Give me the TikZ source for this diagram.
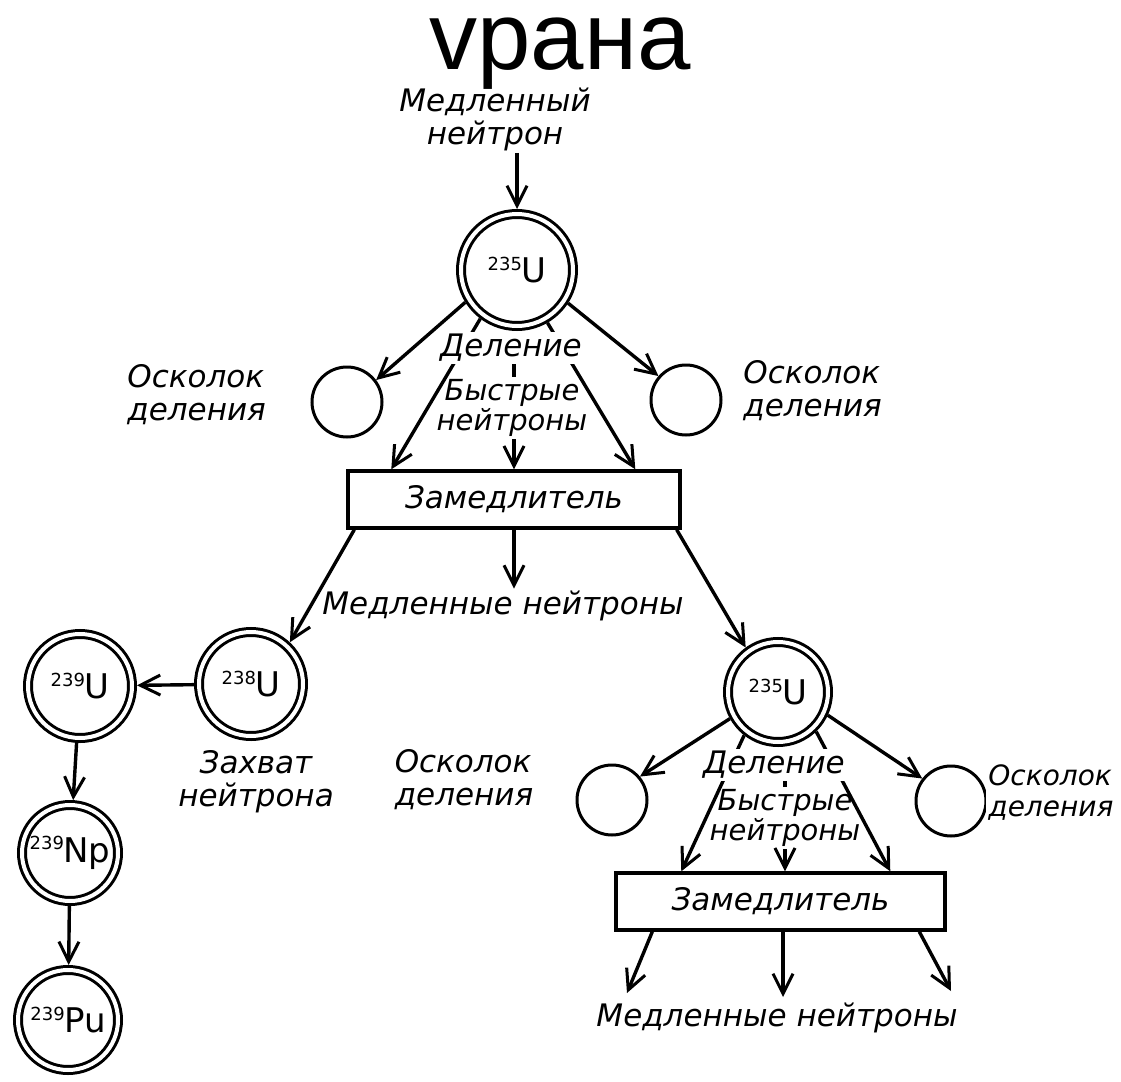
\documentclass[tikz,border=0pt]{standalone}
\usepackage{fontspec}
\setmainfont{DejaVu Sans}
\newfontfamily\titlefont{Liberation Sans}
\newfontfamily\handfont{DejaVu Sans}
\usetikzlibrary{arrows.meta,calc,backgrounds}
\newcommand\isolabel[2]{\raisebox{0.62em}{\fontsize{9}{9}\selectfont #1}\kern-0.3pt{\fontsize{17}{17}\selectfont #2}}
\tikzset{
  nuc/.style={circle, draw, line width=1.5pt, double, double distance=2pt, inner sep=0pt, outer sep=2.5pt},
  frag/.style={circle, draw, line width=1.5pt, inner sep=0pt, outer sep=0.75pt},
  boxst/.style={draw, line width=1.7pt, inner sep=0pt, font=\handfont\itshape\fontsize{15.5}{16.5}\selectfont},
  lab/.style={font=\handfont\itshape\fontsize{15.5}{16.5}\selectfont, align=center, inner sep=1pt},
  labw/.style={lab, fill=white},
  tight/.style={font=\handfont\itshape\fontsize{14.5}{14}\selectfont, inner sep=1pt},
  titlest/.style={font=\titlefont\fontsize{48}{48}\selectfont, inner sep=0pt, text height=25pt, text depth=5pt},
  arr/.style={line width=1.7pt, -{Straight Barb[length=10pt,width=10pt,line width=1.5pt]}},
  tick/.style={line width=1.7pt}
}
\begin{document}
\begin{tikzpicture}[x=0.5pt,y=-0.5pt]
\useasboundingbox (0,0) rectangle (1121,1082);
% nuclei and boxes
\node[nuc, minimum size=56pt] (u1) at (517,270) {\isolabel{235}{U}};
\node[frag, minimum size=35pt] (f1) at (347,402) {};
\node[frag, minimum size=35pt] (f2) at (686,400) {};
\node[boxst, minimum width=166pt, minimum height=28.5pt] (box1) at (514,499.5) {Замедлитель};
\node[nuc, minimum size=52pt] (u238) at (251,684) {\isolabel{238}{U}};
\node[nuc, minimum size=52pt] (u239) at (80,686) {\isolabel{239}{U}};
\node[nuc, minimum size=48pt] (np) at (70,853) {\isolabel{239}{Np}};
\node[nuc, minimum size=50pt] (pu) at (68,1020) {\isolabel{239}{Pu}};
\node[nuc, minimum size=50pt] (u2) at (778,692) {\isolabel{235}{U}};
\node[frag, minimum size=35pt] (f3) at (612,800) {};
\node[frag, minimum size=35pt] (f4) at (951,801) {};
\node[boxst, minimum width=164.5pt, minimum height=28.5pt] (box2) at (780.5,901.5) {Замедлитель};
% labels
\node[titlest, anchor=base] (title) at (560,69) {vрана};
\node[lab] (slow0) at (495,119) {Медленный\\нейтрон};
\node[labw] (del1) at (511,348) {Деление};
\node[lab, tight] (bys1) at (512,408) {Быстрые\\нейтроны};
\node[lab, anchor=west, align=left] (osk1) at (125,395) {Осколок\\деления};
\node[lab, anchor=west, align=left] (osk2) at (741,391) {Осколок\\деления};
\node[lab] (slow1) at (503,606) {Медленные нейтроны};
\node[lab] (cap) at (256,782) {Захват\\нейтрона};
\node[lab, align=left] (osk3) at (464,780) {Осколок\\деления};
\node[labw] (del2) at (774,765) {Деление};
\node[lab, tight] (bys2) at (785,818) {Быстрые\\нейтроны};
\node[labw, anchor=west, align=left, font=\handfont\itshape\fontsize{14}{15.5}\selectfont] (osk4) at (986,793) {Осколок\\деления};
\node[lab] (slow2) at (777,1018) {Медленные нейтроны};
\coordinate (s2a) at (627,993);
\coordinate (s2b) at (783,997);
\coordinate (s2c) at (951,991);
% connectors
\begin{scope}[on background layer]
\fill[white] (0,0) rectangle (1121,1082);
\draw[arr] (slow0.south -| u1.north) -- (u1.north);
\draw[arr] (u1.212) -- (f1.37);
\draw[arr] (u1.-33) -- (f2.139);
\draw[arr] (u1.233) -- ($(box1.north west)+(45,0)$);
\draw[arr] (u1.-60) -- ($(box1.north west)+(289,0)$);
\draw[tick] (box1.north |- del1.south) -- (box1.north |- bys1.north);
\draw[arr] (box1.north |- bys1.south) -- (box1.north);
\draw[arr] ($(box1.south west)+(8,0)$) -- (u238.47);
\draw[arr] (box1.south) -- (box1.south |- slow1.north);
\draw[arr] ($(box1.south east)+(-5,0)$) -- (u2.126);
\draw[arr] (u238) -- (u239);
\draw[arr] (u239) -- (np);
\draw[arr] (np) -- (pu);
\draw[arr] (u2.209) -- (f3.40);
\draw[arr] (u2.-25) -- (f4.142);
\draw[arr] (u2.232) -- ($(box2.north west)+(67,0)$);
\draw[arr] (u2.-46) -- ($(box2.north west)+(276,0)$);
\draw[tick] (bys2.north |- del2.south) -- (bys2.north);
\draw[arr] (bys2.south) -- (bys2.south |- box2.north);
\draw[arr] ($(box2.south west)+(38,0)$) -- (s2a);
\draw[arr] (box2.south -| s2b) -- (s2b);
\draw[arr] ($(box2.south west)+(305,0)$) -- (s2c);
\end{scope}
\end{tikzpicture}
\end{document}
